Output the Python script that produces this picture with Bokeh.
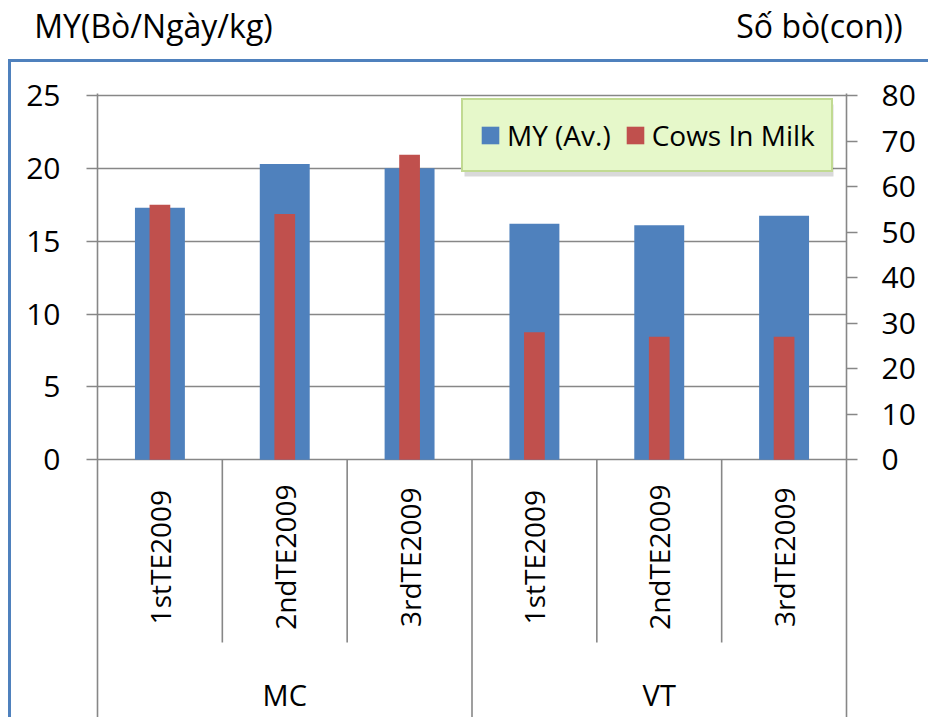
from math import pi

from bokeh.core.properties import value
from bokeh.embed import file_html
from bokeh.models import (BoxAnnotation, ColumnDataSource, FixedTicker,
                          Legend, LegendItem, LinearAxis, Range1d)
from bokeh.plotting import figure
from bokeh.resources import INLINE

# ---- data -------------------------------------------------------------
groups = ["MC", "MC", "MC", "VT", "VT", "VT"]
periods = ["1stTE2009", "2ndTE2009", "3rdTE2009", "1stTE2009", "2ndTE2009", "3rdTE2009"]
my_avg = [17.3, 20.3, 20.0, 16.2, 16.1, 16.75]      # milk yield, kg/cow/day
cows_in_milk = [56, 54, 67, 28, 27, 27]              # number of cows
left_ticks = [0, 5, 10, 15, 20, 25]
right_ticks = [0, 10, 20, 30, 40, 50, 60, 70, 80]
group_names = ["MC", "VT"]
axis_titles = ["MY(Bò/Ngày/kg)", "Số bò(con))"]

# ---- layout constants -------------------------------------------------
W, H = 928, 717
FRAME_LEFT, FRAME_RIGHT, FRAME_TOP = 97, 846, 93
ZERO_PX = 459.3            # canvas row of the zero line
TOP_TICK_PX = 95.0         # canvas row of the top tick
PX_PER_UNIT = (ZERO_PX - TOP_TICK_PX) / left_ticks[-1]
RATIO = right_ticks[-1] / left_ticks[-1]

y_end = left_ticks[-1] + (TOP_TICK_PX - FRAME_TOP) / PX_PER_UNIT
y_start = -(H - ZERO_PX) / PX_PER_UNIT
LABEL_Y = -(556.7 - ZERO_PX) / PX_PER_UNIT     # centre of rotated period labels
GROUP_Y = -(694.0 - ZERO_PX) / PX_PER_UNIT     # centre of group labels
SEP_Y = -(642.0 - ZERO_PX) / PX_PER_UNIT       # lower end of period separators
TITLE_CENTRES = [153, 819]                     # canvas columns of the two axis titles

FONT = "Open Sans"
GRID = "#878787"
BLUE = "#4F81BD"
RED = "#C0504D"

n = len(periods)
per_group = n // len(group_names)
xpos = [i + 0.5 for i in range(n)]             # one unit per period slot
src = ColumnDataSource(dict(x=xpos, my=my_avg, cows=cows_in_milk, lab=periods))

p = figure(width=W, height=H, output_backend="svg", toolbar_location=None,
           x_range=Range1d(0, n), y_range=Range1d(y_start, y_end),
           x_axis_location=None,
           min_border_left=FRAME_LEFT, min_border_right=W - FRAME_RIGHT,
           min_border_top=FRAME_TOP, min_border_bottom=0)
p.outline_line_color = None
p.background_fill_color = "white"
p.border_fill_color = None
# blue chart-area border around the whole chart, below the two axis titles
p.styles = {
    "background-color": "white",
    "background-image": f"linear-gradient({BLUE},{BLUE}), linear-gradient({BLUE},{BLUE})",
    "background-size": "3px 700px, 940px 3px",
    "background-position": "8px 59px, 8px 59px",
    "background-repeat": "no-repeat",
}
p.xgrid.visible = False
p.ygrid.ticker = FixedTicker(ticks=left_ticks)
p.ygrid.grid_line_color = GRID
p.ygrid.grid_line_width = 1.6

p.extra_y_ranges = {"cows": Range1d(y_start * RATIO, y_end * RATIO)}
p.extra_x_ranges = {"canvas": Range1d(FRAME_LEFT, FRAME_RIGHT)}


def style_axis(ax, ticks, standoff):
    ax.ticker = FixedTicker(ticks=ticks)
    ax.axis_line_color = GRID
    ax.axis_line_width = 1.6
    ax.major_tick_line_color = GRID
    ax.major_tick_line_width = 1.6
    ax.major_tick_out = 11
    ax.major_tick_in = 0
    ax.minor_tick_line_color = None
    ax.major_label_text_font = FONT
    ax.major_label_text_font_size = "30px"
    ax.major_label_text_color = "black"
    ax.major_label_standoff = standoff


style_axis(p.yaxis[0], left_ticks, 26)
right_axis = LinearAxis(y_range_name="cows")
style_axis(right_axis, right_ticks, 24)
p.add_layout(right_axis, "right")

# axis titles above the chart area
title_axis = LinearAxis(x_range_name="canvas", ticker=FixedTicker(ticks=TITLE_CENTRES),
                        major_label_overrides=dict(zip(TITLE_CENTRES, axis_titles)),
                        axis_line_color=None, major_tick_line_color=None,
                        minor_tick_line_color=None, major_tick_out=0, major_tick_in=0,
                        major_label_text_font=FONT, major_label_text_font_size="32px",
                        major_label_text_color="black", major_label_standoff=47)
p.add_layout(title_axis, "above")

# ---- bars -------------------------------------------------------------
r_my = p.vbar(x="x", top="my", width=0.4, source=src, fill_color=BLUE, line_color=None)
r_cows = p.vbar(x="x", top="cows", width=0.166, source=src, y_range_name="cows",
                fill_color=RED, line_color=None)

# ---- category axis drawn in the lower part of the frame ---------------
inner = [i for i in range(1, n) if i % per_group != 0]
outer = [i for i in range(per_group, n, per_group)]
p.segment(x0=inner, x1=inner, y0=[0] * len(inner), y1=[SEP_Y] * len(inner),
          line_color=GRID, line_width=1.6)
p.segment(x0=outer, x1=outer, y0=[0] * len(outer), y1=[y_start] * len(outer),
          line_color=GRID, line_width=1.6)

p.text(x="x", y=LABEL_Y, text="lab", source=src, angle=pi / 2,
       text_align="center", text_baseline="middle",
       text_font=value(FONT), text_font_size="28px", text_color="black")
group_x = [per_group * (k + 0.5) for k in range(len(group_names))]
p.text(x=group_x, y=[GROUP_Y] * len(group_names), text=group_names,
       text_align="center", text_baseline="middle",
       text_font=value(FONT), text_font_size="29px", text_color="black")

# ---- legend -----------------------------------------------------------
shadow = BoxAnnotation(left=367, right=736, top=613, bottom=541,
                       left_units="screen", right_units="screen",
                       top_units="screen", bottom_units="screen",
                       fill_color="#000000", fill_alpha=0.15, line_color=None)
p.add_layout(shadow)
legend = Legend(items=[LegendItem(label="MY (Av.)", renderers=[r_my]),
                       LegendItem(label="Cows In Milk", renderers=[r_cows])],
                location=(364, 545), orientation="horizontal",
                background_fill_color="#E6F8CA", background_fill_alpha=1.0,
                border_line_color="#9BBB59", border_line_width=2,
                label_text_font=FONT, label_text_font_size="28px",
                label_text_color="black",
                glyph_width=22, glyph_height=22, label_standoff=6,
                spacing=13, padding=16, margin=0)
p.add_layout(legend, "center")

open("out.html", "w").write(file_html(p, INLINE))
